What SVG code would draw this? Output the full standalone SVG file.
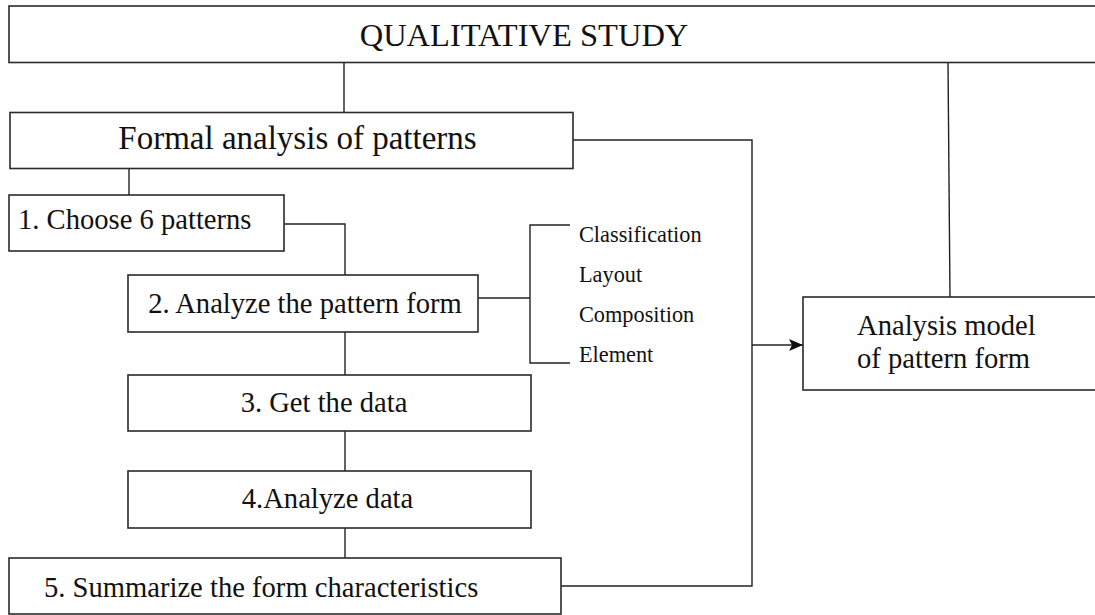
<svg xmlns="http://www.w3.org/2000/svg" width="1095" height="615" viewBox="0 0 1095 615">
  <style>
    .box { fill: #ffffff; stroke: #2a2a2a; stroke-width: 1.6; }
    .link { fill: none; stroke: #222222; stroke-width: 1.4; }
    text { font-family: "Liberation Serif", "Times New Roman", serif; fill: #111111; }
    .t-title { font-size: 32.5px; }
    .t-main { font-size: 33px; }
    .t-step { font-size: 28.6px; }
    .t-item { font-size: 22.3px; }
  </style>
  <defs>
    <marker id="arrow" viewBox="0 0 14 12" refX="14" refY="6" markerWidth="14" markerHeight="12" markerUnits="userSpaceOnUse" orient="auto">
      <path d="M0,0 L14,6 L0,12 L3,6 Z" fill="#111111"/>
    </marker>
  </defs>

  <rect width="1095" height="615" fill="#ffffff"/>

  <!-- connectors -->
  <g id="connectors">
    <line class="link" x1="344" y1="62" x2="344" y2="112"/>
    <line class="link" x1="948" y1="62" x2="950" y2="297"/>
    <line class="link" x1="129" y1="168" x2="129" y2="195"/>
    <polyline class="link" points="284,224 345,224 345,275"/>
    <line class="link" x1="345" y1="332" x2="345" y2="375"/>
    <line class="link" x1="345" y1="431" x2="345" y2="471"/>
    <line class="link" x1="345" y1="528" x2="345" y2="558"/>
    <!-- bracket to the form aspects -->
    <line class="link" x1="478" y1="298" x2="530" y2="298"/>
    <polyline class="link" points="570,225 530,225 530,363 570,363"/>
    <!-- collector line into the model -->
    <polyline class="link" points="573,140 752,140 752,586 561,586"/>
    <line class="link" x1="752" y1="345" x2="803" y2="345" marker-end="url(#arrow)"/>
  </g>

  <g id="qualitative-study">
    <rect class="box" x="9" y="6" width="1100" height="56.5"/>
    <text class="t-title" x="524" y="46" text-anchor="middle">QUALITATIVE STUDY</text>
  </g>

  <g id="formal-analysis">
    <rect class="box" x="10" y="112.5" width="563" height="56"/>
    <text class="t-main" x="297.5" y="149" text-anchor="middle">Formal analysis of patterns</text>
  </g>

  <g id="step-1">
    <rect class="box" x="9" y="195" width="275" height="56"/>
    <text class="t-step" x="18" y="229">1. Choose 6 patterns</text>
  </g>

  <g id="step-2">
    <rect class="box" x="128" y="275" width="350" height="57"/>
    <text class="t-step" x="305" y="313" text-anchor="middle">2. Analyze the pattern form</text>
  </g>

  <g id="form-aspects">
    <text class="t-item" x="579" y="242">Classification</text>
    <text class="t-item" x="579" y="282">Layout</text>
    <text class="t-item" x="579" y="322">Composition</text>
    <text class="t-item" x="579" y="362">Element</text>
  </g>

  <g id="step-3">
    <rect class="box" x="128" y="375" width="403" height="56"/>
    <text class="t-step" x="324" y="412" text-anchor="middle">3. Get the data</text>
  </g>

  <g id="step-4">
    <rect class="box" x="128" y="471" width="403" height="57"/>
    <text class="t-step" x="327.5" y="508" text-anchor="middle">4.Analyze data</text>
  </g>

  <g id="step-5">
    <rect class="box" x="9" y="558" width="552" height="56"/>
    <text class="t-step" x="44" y="597">5. Summarize the form characteristics</text>
  </g>

  <g id="analysis-model">
    <rect class="box" x="803" y="297" width="310" height="93"/>
    <text class="t-step" x="857" y="335">Analysis model</text>
    <text class="t-step" x="857" y="368">of pattern form</text>
  </g>
</svg>
